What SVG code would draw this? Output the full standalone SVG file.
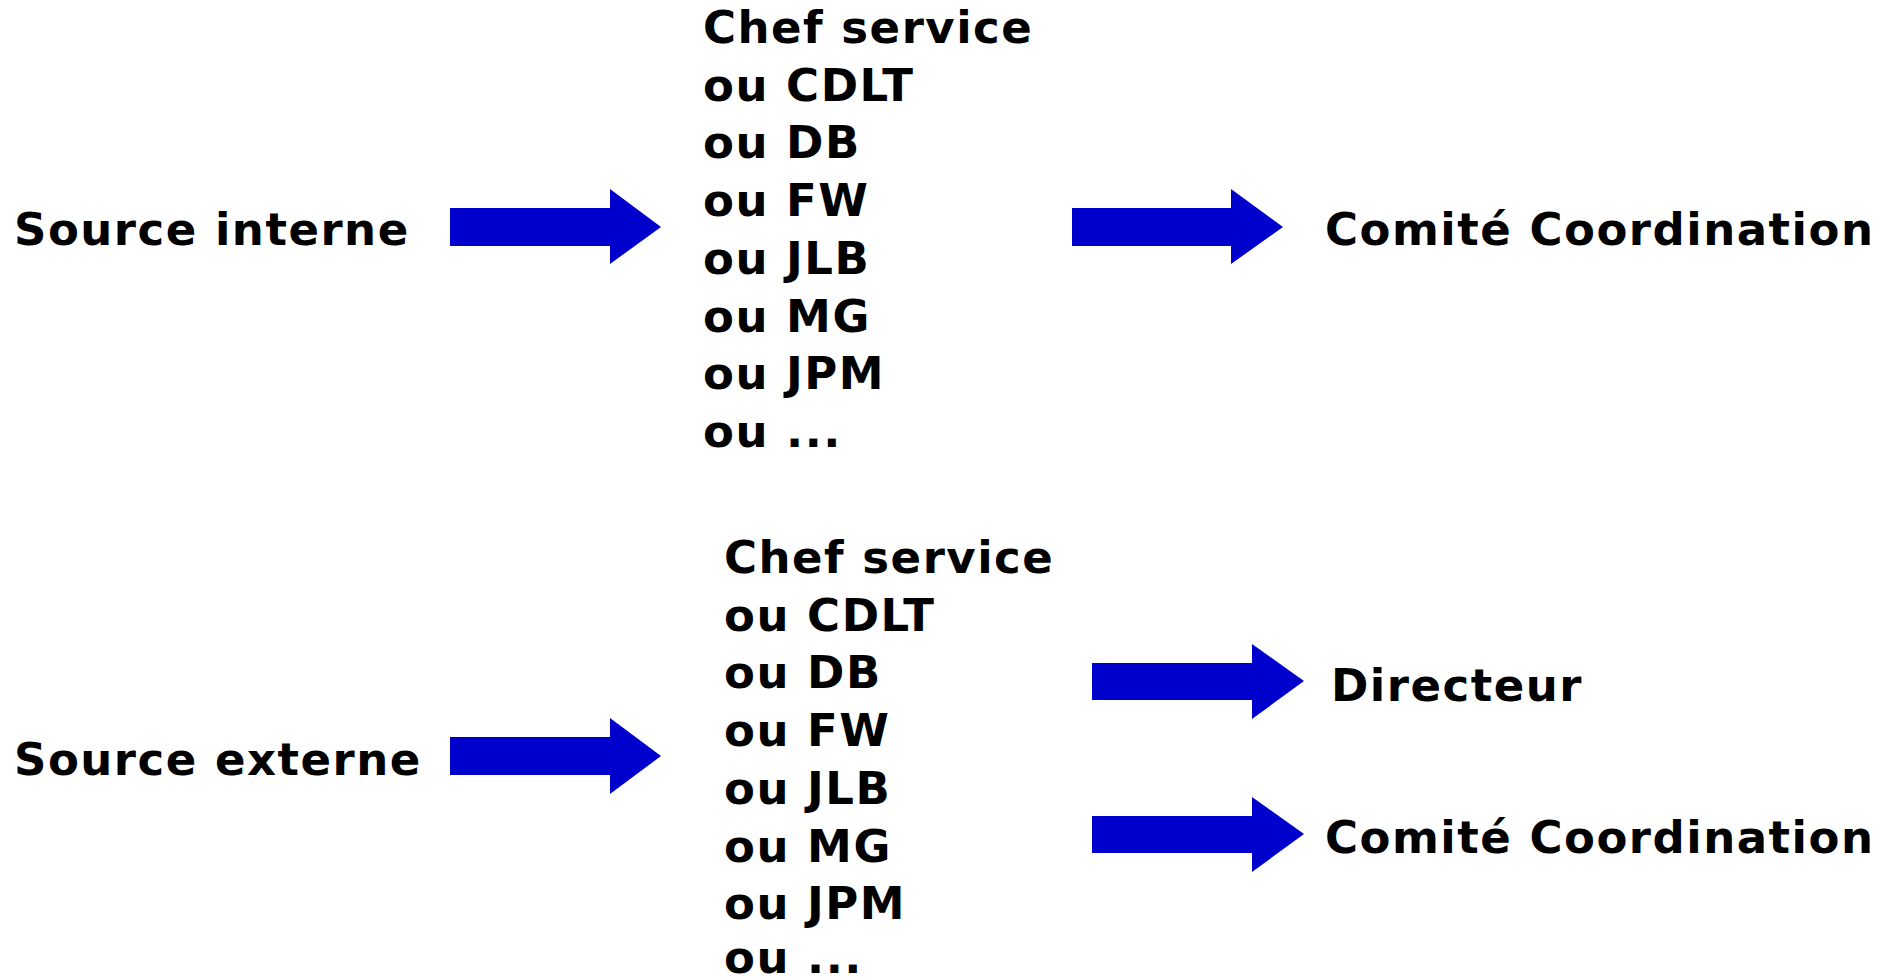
<svg xmlns="http://www.w3.org/2000/svg" width="1899" height="980" viewBox="0 0 1899 980">
<style>
text{font-family:"DejaVu Sans","Liberation Sans",sans-serif;font-weight:bold;font-size:45px;letter-spacing:1.5px;fill:#000}
.arr{fill:#0000cc}
</style>
<rect width="1899" height="980" fill="#fff"/>
<g id="source-interne"><text x="14" y="245">Source interne</text></g>
<g id="liste-interne">
<text x="703" y="43">Chef service</text>
<text x="703" y="101">ou CDLT</text>
<text x="703" y="158">ou DB</text>
<text x="703" y="216">ou FW</text>
<text x="703" y="274">ou JLB</text>
<text x="703" y="332">ou MG</text>
<text x="703" y="389">ou JPM</text>
<text x="703" y="447">ou ...</text>
</g>
<g id="comite-1"><text x="1325" y="245">Comité Coordination</text></g>
<g id="source-externe"><text x="14" y="775">Source externe</text></g>
<g id="liste-externe">
<text x="724" y="573">Chef service</text>
<text x="724" y="631">ou CDLT</text>
<text x="724" y="688">ou DB</text>
<text x="724" y="746">ou FW</text>
<text x="724" y="804">ou JLB</text>
<text x="724" y="862">ou MG</text>
<text x="724" y="919">ou JPM</text>
<text x="724" y="973">ou ...</text>
</g>
<g id="directeur"><text x="1331" y="701">Directeur</text></g>
<g id="comite-2"><text x="1325" y="853">Comité Coordination</text></g>
<g id="connectors">
<polygon class="arr" points="450,208 610,208 610,189 661,227 610,264 610,246 450,246"/>
<polygon class="arr" points="1072,208 1231,208 1231,189 1283,227 1231,264 1231,246 1072,246"/>
<polygon class="arr" points="450,737 610,737 610,718 661,756 610,794 610,775 450,775"/>
<polygon class="arr" points="1092,663 1252,663 1252,644 1304,681 1252,719 1252,700 1092,700"/>
<polygon class="arr" points="1092,816 1252,816 1252,797 1304,834 1252,872 1252,853 1092,853"/>
</g>
</svg>
